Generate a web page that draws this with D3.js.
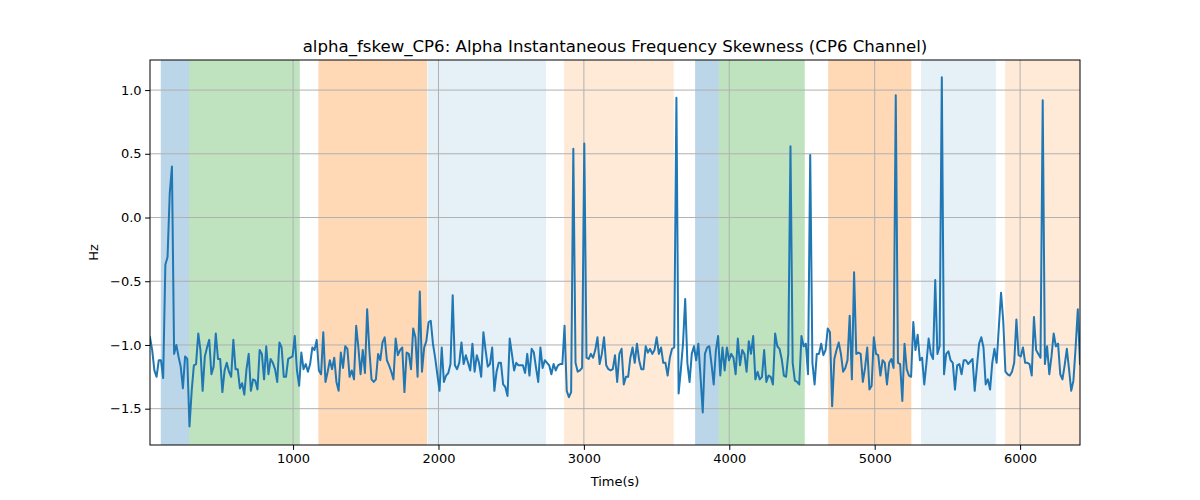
<!DOCTYPE html>
<html>
<head>
<meta charset="utf-8">
<script src="https://cdn.jsdelivr.net/npm/d3@7"></script>
<style>
  html, body { margin: 0; padding: 0; background: #fff; }
  svg { display: block; font-family: "DejaVu Sans", sans-serif; }
</style>
</head>
<body>
<svg id="chart" width="1200" height="500"></svg>
<script>
// ---- data ----
const titleText = "alpha_fskew_CP6: Alpha Instantaneous Frequency Skewness (CP6 Channel)";
const xLabel = "Time(s)";
const yLabel = "Hz";
const timeStart = 16;
const timeEnd = 6412;
const xTicks = [1000, 2000, 3000, 4000, 5000, 6000];
const yTicks = [-1.5, -1.0, -0.5, 0.0, 0.5, 1.0];

const values = [
  // segment 1
  -0.94,-1.04,-1.20,-1.25,-1.12,-1.12,-1.26,-0.37,-0.31,0.19,0.40,-1.07,-1.00,-1.09,-1.17,-1.34,-1.09,-1.11,-1.64,
  -1.36,-1.16,-1.15,-0.91,-1.04,-1.36,-1.09,-1.02,-0.96,-1.23,-1.17,-0.91,-1.11,-1.11,-1.37,-1.20,-1.14,-1.21,-1.25,-0.96,
  -1.19,-1.19,-1.34,-1.30,-1.39,
  // segment 2
  -1.19,-1.07,-1.36,-1.27,-1.28,-1.35,-1.04,-1.07,-1.27,-1.01,-1.23,-1.11,-1.14,-1.19,-1.29,-0.98,-1.02,-1.25,-1.25,-1.11,
  -1.10,-1.09,-0.93,-1.20,-1.32,-1.06,-1.19,-1.15,-1.21,-1.15,-1.02,-1.04,-0.96,-1.20,-1.23,-0.90,-1.29,-1.21,-1.12,-1.19,
  -1.10,-1.29,
  // segment 3
  -1.36,-1.06,-1.18,-1.01,-1.03,-1.25,-1.20,-1.27,-0.85,-1.02,-1.23,-1.04,-1.22,-0.72,-1.04,-1.27,-1.29,-1.27,-1.07,-1.12,
  -0.98,-0.94,-1.12,-1.16,-1.21,-1.27,-0.95,-1.08,-1.04,-1.02,-1.37,-1.06,-1.07,-1.19,-0.87,-0.94,-1.25,-0.58,-1.21,-1.02,
  -0.97,-0.82,-0.81,
  // segment 4
  -0.99,-1.10,-1.23,-1.36,-1.02,-1.29,-1.24,-1.22,-1.15,-0.61,-1.16,-1.19,-1.14,-0.98,-1.15,-1.08,-1.14,-1.20,-0.99,-1.21,
  -1.08,-1.14,-1.25,-0.90,-1.04,-1.17,-1.15,-1.02,-1.36,-1.21,-1.14,-1.14,-1.31,-1.33,-1.40,-0.95,-1.07,-1.20,-1.14,-1.16,
  -1.16,-1.16,-1.22,
  // segment 5
  -1.07,-1.24,-1.03,-1.06,-1.18,-1.29,-1.02,-1.18,-1.12,-1.14,-1.16,-1.23,-1.15,-1.20,-1.16,-1.15,-1.15,-0.85,-1.36,-1.41,
  -1.37,0.54,-1.14,-1.21,-1.20,-1.18,0.58,-1.10,-1.11,-1.07,-1.10,-1.04,-0.94,-1.15,-1.07,-0.94,-1.16,-1.19,-1.20,-1.19,
  -1.08,-1.29,-1.07,-1.03,
  // segment 6
  -1.31,-1.25,-1.25,-1.10,-1.02,-1.14,-0.99,-1.12,-1.19,-1.19,-1.01,-1.06,-1.03,-1.07,-1.04,-0.94,-1.07,-1.02,-1.14,-1.14,
  -1.24,-1.10,-1.03,-1.02,0.94,-1.38,-1.20,-0.99,-0.64,-1.14,-1.29,-1.07,-1.01,-1.12,-0.99,-1.25,-1.53,-1.07,-1.02,-1.01,
  -1.15,-1.31,
  // segment 7
  -1.04,-0.93,-1.24,-1.02,-1.20,-1.02,-1.12,-1.07,-1.10,-1.23,-0.95,-1.16,-1.04,-1.07,-1.21,-0.97,-1.07,-0.93,-1.27,
  -1.21,-1.27,-1.25,-1.04,-1.29,-1.24,-1.25,-1.31,-0.91,-1.01,-1.03,-1.11,-1.24,-1.25,-1.07,0.56,-1.14,-1.28,-1.29,
  -1.31,-0.93,-1.01,-0.99,
  // segment 8
  -1.23,0.49,-1.14,-1.31,-1.07,-1.07,-0.99,-1.08,-1.04,-0.87,-0.90,-1.48,-1.11,-1.04,-0.98,-1.07,-1.21,-1.18,-1.12,-0.77,
  -1.27,-0.43,-1.07,-1.06,-1.07,-1.29,-1.18,-1.02,-1.35,-1.32,-0.94,-1.07,-1.08,-1.24,-1.12,-1.14,-1.31,-1.14,-1.11,-1.18,
  0.96,-1.14,-1.15,
  // segment 9
  -1.44,-0.99,-1.19,-1.24,-1.25,-0.82,-1.04,-0.92,-1.12,-1.10,-1.31,-1.14,-0.95,-1.07,-1.11,-0.49,-1.07,-1.01,1.10,-1.23,-1.07,
  -1.05,-1.12,-1.14,-1.35,-1.16,-1.15,-1.23,-1.12,-1.12,-1.15,-1.13,-1.11,-1.36,-1.17,-0.99,-0.94,-1.02,-1.31,-1.27,-1.35,-1.14,
  -1.03,-1.14,
  // segment 10
  -0.86,-0.59,-0.81,-1.21,-1.23,-1.24,-1.21,-1.14,-0.80,-1.08,-1.09,-1.02,-1.14,-1.14,-1.15,-1.24,-0.78,-1.04,-1.07,-1.10,
  0.92,-1.15,-1.01,-1.23,-1.09,-0.91,-1.01,-0.99,-1.23,-1.27,-1.16,-1.03,-1.19,-1.36,-1.28,-1.02,-0.72,-1.15
];

// shaded intervals
const spanStarts = [90, 285, 1174, 1925, 2864, 3765, 3928, 4680, 5319, 5897];
const spanEnds   = [285, 1046, 1921, 2740, 3618, 3928, 4519, 5252, 5833, 6412];
const spanKinds  = ["blue", "green", "orange", "lightblue", "lightorange", "blue", "green", "orange", "lightblue", "lightorange"];

// ---- drawing ----
const kindColor = {
  blue: ["#1f77b4", 0.3],
  green: ["#2ca02c", 0.3],
  orange: ["#ff7f0e", 0.3],
  lightblue: ["#1f77b4", 0.11],
  lightorange: ["#ff7f0e", 0.16]
};

const svg = d3.select("#chart");
const margin = { left: 150, right: 120, top: 60, bottom: 55 };
const W = 1200, H = 500;
const iw = W - margin.left - margin.right;
const ih = H - margin.top - margin.bottom;

const x = d3.scaleLinear().domain([timeStart, timeEnd]).range([0, iw]);
const y = d3.scaleLinear().domain([-1.785, 1.236]).range([ih, 0]);

const n = values.length;
const times = values.map((_, i) => timeStart + i * (timeEnd - timeStart) / (n - 1));

const g = svg.append("g").attr("transform", `translate(${margin.left},${margin.top})`);

// spans
g.append("g").selectAll("rect")
  .data(spanStarts.map((s, i) => ({ s, e: spanEnds[i], k: spanKinds[i] })))
  .join("rect")
  .attr("x", d => x(d.s))
  .attr("width", d => x(d.e) - x(d.s))
  .attr("y", 0)
  .attr("height", ih)
  .attr("fill", d => kindColor[d.k][0])
  .attr("fill-opacity", d => kindColor[d.k][1]);

// grid
const fmt = v => d3.format(".1f")(v).replace("-", "\u2212");
g.append("g").selectAll("line.gx").data(xTicks).join("line")
  .attr("x1", d => x(d)).attr("x2", d => x(d))
  .attr("y1", 0).attr("y2", ih)
  .attr("stroke", "#b0b0b0").attr("stroke-width", 1);
g.append("g").selectAll("line.gy").data(yTicks).join("line")
  .attr("y1", d => y(d)).attr("y2", d => y(d))
  .attr("x1", 0).attr("x2", iw)
  .attr("stroke", "#b0b0b0").attr("stroke-width", 1);

// line
svg.append("defs").append("clipPath").attr("id", "clip")
  .append("rect").attr("width", iw).attr("height", ih);
g.append("path")
  .datum(values.map((v, i) => [times[i], v]))
  .attr("clip-path", "url(#clip)")
  .attr("fill", "none")
  .attr("stroke", "#1f77b4")
  .attr("stroke-width", 2)
  .attr("stroke-linejoin", "round")
  .attr("stroke-linecap", "square")
  .attr("d", d3.line().x(d => x(d[0])).y(d => y(d[1])));

// axes
const xAxis = g.append("g").attr("transform", `translate(0,${ih})`)
  .call(d3.axisBottom(x).tickValues(xTicks).tickFormat(d3.format("d")).tickSizeOuter(0).tickSize(4.9).tickPadding(3.5));
const yAxis = g.append("g")
  .call(d3.axisLeft(y).tickValues(yTicks).tickFormat(fmt).tickSizeOuter(0).tickSize(4.9).tickPadding(3.5));
[xAxis, yAxis].forEach(a => {
  a.select(".domain").remove();
  a.selectAll(".tick line").attr("stroke", "#000").attr("stroke-width", 1);
  a.selectAll(".tick text").attr("font-size", "13px").attr("fill", "#000")
    .attr("font-family", "DejaVu Sans, sans-serif");
});

// frame
g.append("rect").attr("width", iw).attr("height", ih)
  .attr("fill", "none").attr("stroke", "#000").attr("stroke-width", 1);

// labels
svg.append("text").attr("x", margin.left + iw / 2).attr("y", 52)
  .attr("text-anchor", "middle").attr("font-size", "16.6px").attr("fill", "#000")
  .text(titleText);
svg.append("text").attr("x", margin.left + iw / 2).attr("y", 486)
  .attr("text-anchor", "middle").attr("font-size", "13px").attr("fill", "#000")
  .text(xLabel);
svg.append("text").attr("transform", `translate(98,${margin.top + ih / 2}) rotate(-90)`)
  .attr("text-anchor", "middle").attr("font-size", "13px").attr("fill", "#000")
  .text(yLabel);
</script>
</body>
</html>
